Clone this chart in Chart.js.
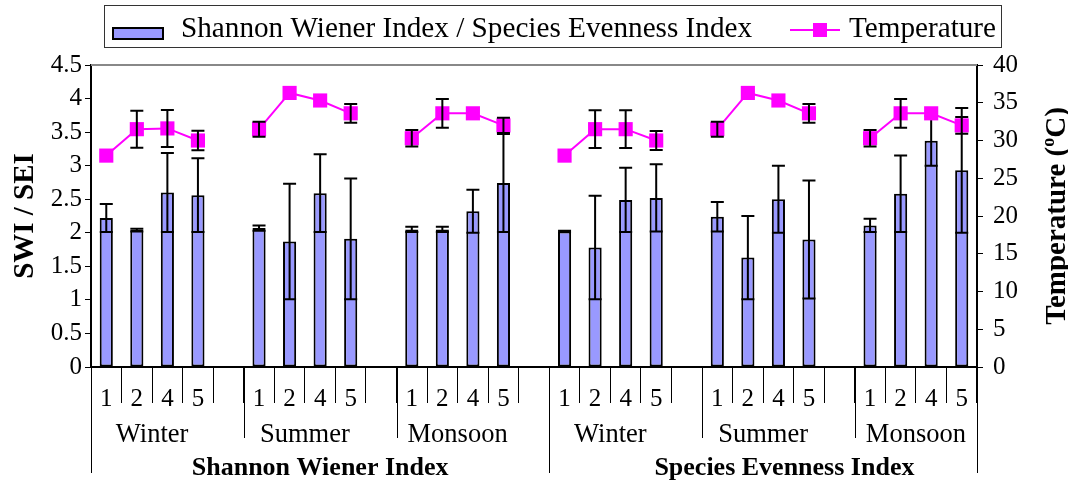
<!DOCTYPE html>
<html>
<head>
<meta charset="utf-8">
<script src="https://cdn.jsdelivr.net/npm/chart.js@4.4.1/dist/chart.umd.min.js"></script>
<style>
  html, body { margin: 0; padding: 0; background: #fff; }
</style>
</head>
<body>
<canvas id="grafik" width="1068" height="482"></canvas>
<script>
// data (blank slot between seasons = null)
const stasiun = ['1','2','4','5','', '1','2','4','5','', '1','2','4','5','',
                 '1','2','4','5','', '1','2','4','5','', '1','2','4','5'];
const musim = ['Winter', 'Summer', 'Monsoon', 'Winter', 'Summer', 'Monsoon'];
const indeks = ['Shannon Wiener Index', 'Species Evenness Index'];

const nilaiIndeks = [2.22, 2.04, 2.60, 2.56, null,  2.07, 1.87, 2.59, 1.91, null,  2.05, 2.05, 2.32, 2.74, null,
                     2.02, 1.78, 2.49, 2.52, null,  2.24, 1.63, 2.50, 1.90, null,  2.11, 2.58, 3.37, 2.93];
const errIndeks  = [0.21, 0.02, 0.59, 0.55, null,  0.04, 0.86, 0.58, 0.90, null,  0.04, 0.04, 0.32, 0.73, null,
                    0.01, 0.77, 0.48, 0.50, null,  0.22, 0.62, 0.50, 0.88, null,  0.10, 0.57, 0.37, 0.93];
const suhu    = [28.0, 31.5, 31.6, 30.0, null,  31.5, 36.3, 35.3, 33.6, null,  30.3, 33.6, 33.6, 32.0, null,
                 28.0, 31.5, 31.5, 30.0, null,  31.5, 36.3, 35.3, 33.6, null,  30.3, 33.6, 33.6, 32.0];
const errSuhu = [0, 2.45, 2.45, 1.3, null,  1.0, 0, 0, 1.25, null,  1.1, 1.9, 0, 1.0, null,
                 0, 2.5, 2.5, 1.25, null,  1.0, 0, 0, 1.25, null,  1.1, 1.9, 0, 1.1];

const serif = '"Liberation Serif", "Times New Roman", serif';

// error bars, drawn right after their own dataset
const errorBars = {
    id: 'errorBars',
    afterDatasetDraw(chart, args) {
        const meta = args.meta;
        const vals = args.index === 0 ? nilaiIndeks : suhu;
        const errs = args.index === 0 ? errIndeks : errSuhu;
        const sc = chart.scales[meta.yAxisID];
        const c = chart.ctx;
        c.save();
        c.strokeStyle = '#000';
        c.lineWidth = 2;
        meta.data.forEach((el, i) => {
            const v = vals[i], e = errs[i];
            if (v == null || !e) return;
            const yT = sc.getPixelForValue(v + e);
            const yB = sc.getPixelForValue(v - e);
            const w = 6.5;
            c.beginPath();
            c.moveTo(el.x, yT); c.lineTo(el.x, yB);
            c.moveTo(el.x - w, yT); c.lineTo(el.x + w, yT);
            c.moveTo(el.x - w, yB); c.lineTo(el.x + w, yB);
            c.stroke();
        });
        c.restore();
    }
};

// frame, group labels, axis titles and legend box
const hiasan = {
    id: 'hiasan',
    afterDraw(chart) {
        const c = chart.ctx;
        const a = chart.chartArea;
        const x = chart.scales.x;
        const half = (x.getPixelForValue(1) - x.getPixelForValue(0)) / 2;
        const batas = i => x.getPixelForValue(i) - half;

        c.save();
        // top frame line
        c.strokeStyle = '#888';
        c.lineWidth = 2;
        c.beginPath(); c.moveTo(a.left, a.top); c.lineTo(a.right, a.top); c.stroke();

        // longer separators for seasons and indices
        c.strokeStyle = '#000';
        c.lineWidth = 1;
        const musimMulai = [0, 5, 10, 15, 20, 25];
        musimMulai.forEach((s, g) => {
            if (g % 3 === 0) return;
            const px = Math.round(batas(s)) + 0.5;
            c.beginPath(); c.moveTo(px, a.bottom); c.lineTo(px, 438); c.stroke();
        });
        [0, 15, stasiun.length].forEach(s => {
            const px = Math.round(batas(s)) + 0.5;
            c.beginPath(); c.moveTo(px, a.bottom); c.lineTo(px, 473); c.stroke();
        });

        // season labels
        c.fillStyle = '#000';
        c.textAlign = 'center';
        c.textBaseline = 'alphabetic';
        c.font = '26.5px ' + serif;
        musimMulai.forEach((s, g) => {
            const cx = (x.getPixelForValue(s) + x.getPixelForValue(s + 3)) / 2;
            c.fillText(musim[g], cx, 442);
        });
        // index labels
        c.font = 'bold 26px ' + serif;
        c.fillText(indeks[0], (batas(0) + batas(15)) / 2, 475);
        c.fillText(indeks[1], (batas(15) + batas(30)) / 2 + 6, 475);

        // left axis title
        c.font = 'bold 29px ' + serif;
        c.save();
        c.translate(33, (a.top + a.bottom) / 2);
        c.rotate(-Math.PI / 2);
        c.fillText('SWI / SEI', 0, 0);
        c.restore();

        // right axis title with superscript o
        c.save();
        c.translate(1065, (a.top + a.bottom) / 2);
        c.rotate(-Math.PI / 2);
        const t1 = 'Temperature (', t2 = 'o', t3 = 'C)';
        c.font = 'bold 29px ' + serif;
        const w1 = c.measureText(t1).width, w3 = c.measureText(t3).width;
        c.font = 'bold 18px ' + serif;
        const w2 = c.measureText(t2).width;
        let sx = -(w1 + w2 + w3) / 2;
        c.textAlign = 'left';
        c.font = 'bold 29px ' + serif;
        c.fillText(t1, sx, 0);
        c.font = 'bold 18px ' + serif;
        c.fillText(t2, sx + w1, -11);
        c.font = 'bold 29px ' + serif;
        c.fillText(t3, sx + w1 + w2, 0);
        c.restore();

        // legend
        const ds = chart.data.datasets;
        c.strokeStyle = '#333';
        c.lineWidth = 1;
        c.strokeRect(104.5, 5.5, 897, 42);
        c.fillStyle = '#9999FF';
        c.fillRect(113, 28, 50, 11);
        c.strokeStyle = '#000';
        c.lineWidth = 2;
        c.strokeRect(113, 28, 50, 11);
        c.fillStyle = '#000';
        c.textAlign = 'left';
        c.font = '29.2px ' + serif;
        c.fillText(ds[0].label, 181, 37);
        c.strokeStyle = '#FF00FF';
        c.lineWidth = 2;
        c.beginPath(); c.moveTo(790, 30); c.lineTo(840, 30); c.stroke();
        c.fillStyle = '#FF00FF';
        c.fillRect(813, 23, 14, 14);
        c.fillStyle = '#000';
        c.fillText(ds[1].label, 849, 37);
        c.restore();
    }
};

const fmt = v => String(+v.toFixed(1));

const ctx = document.getElementById('grafik');
const chart = new Chart(ctx, {
    data: {
        labels: stasiun,
        datasets: [
            {
                type: 'bar',
                label: 'Shannon Wiener Index / Species Evenness Index',
                data: nilaiIndeks,
                backgroundColor: '#9999FF',
                borderColor: '#000',
                borderWidth: 2,
                borderSkipped: false,
                barPercentage: 0.43,
                categoryPercentage: 1,
                yAxisID: 'y',
                order: 2
            },
            {
                type: 'line',
                label: 'Temperature',
                data: suhu,
                borderColor: '#FF00FF',
                borderWidth: 2,
                pointStyle: 'rect',
                pointRadius: 10,
                pointBackgroundColor: '#FF00FF',
                pointBorderColor: '#FF00FF',
                pointBorderWidth: 0,
                spanGaps: false,
                tension: 0,
                yAxisID: 'y2',
                order: 1
            }
        ]
    },
    options: {
        responsive: false,
        animation: false,
        devicePixelRatio: 1,
        layout: { padding: { top: 65 } },
        plugins: {
            legend: { display: false },
            tooltip: { enabled: false }
        },
        scales: {
            x: {
                type: 'category',
                offset: true,
                grid: { offset: true, drawOnChartArea: false, drawTicks: true, tickLength: 36, color: '#000', lineWidth: 1 },
                border: { color: '#000', width: 2 },
                ticks: { color: '#000', font: { family: serif, size: 25 }, padding: -19, maxRotation: 0, autoSkip: false },
                afterFit: s => { s.height = 115; }
            },
            y: {
                position: 'left',
                min: 0, max: 4.5,
                ticks: { stepSize: 0.5, color: '#000', font: { family: serif, size: 25 }, padding: 3, callback: fmt },
                grid: { drawOnChartArea: false, tickLength: 6, color: '#000' },
                border: { color: '#000', width: 2 },
                afterFit: s => { s.width = 91; }
            },
            y2: {
                position: 'right',
                min: 0, max: 40,
                ticks: { stepSize: 5, color: '#000', font: { family: serif, size: 25 }, padding: 10, callback: fmt },
                grid: { drawOnChartArea: false, tickLength: 6, color: '#000' },
                border: { color: '#000', width: 2 },
                afterFit: s => { s.width = 91; }
            }
        }
    },
    plugins: [errorBars, hiasan]
});
</script>
</body>
</html>
